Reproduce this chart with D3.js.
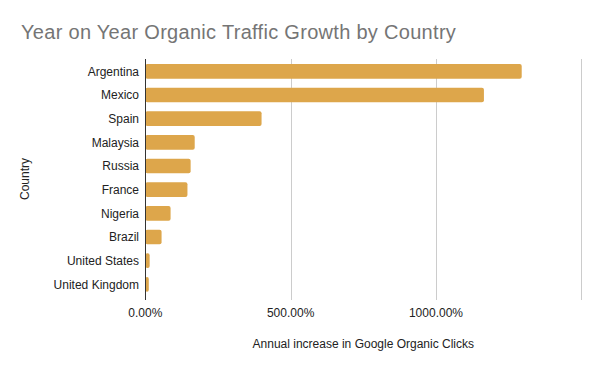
<!DOCTYPE html>
<html>
<head>
<meta charset="utf-8">
<script src="https://cdn.jsdelivr.net/npm/d3@7"></script>
<style>
  body { margin: 0; background: #fff; }
  text { font-family: Arial, "Liberation Sans", sans-serif; }
</style>
</head>
<body>
<div id="chart"></div>
<script>
var WD = 600, HT = 371

// data
var countries = ['Argentina','Mexico','Spain','Malaysia','Russia','France','Nigeria','Brazil','United States','United Kingdom']
var growth = [1295, 1165, 400, 170, 156, 145, 87, 56, 15, 12]
var ticks = [0, 500, 1000, 1500]
var tickLabels = ['0.00%', '500.00%', '1000.00%', '']

var data = countries.map(function(c, i){ return { country: c, value: growth[i] } })

var x = d3.scaleLinear().domain([0, 1500]).range([145.3, 581.3])
var y = d3.scaleBand().domain(countries).range([59.5, 296.2]).paddingInner(0.38).paddingOuter(0.19)

var svg = d3.select("#chart")
            .append("svg")
                .attr("width", WD)
                .attr("height", HT)

// title
svg.append("text")
    .attr("x", 21)
    .attr("y", 39)
    .attr("font-size", 20)
    .attr("letter-spacing", 0.3)
    .attr("fill", "#757575")
    .text("Year on Year Organic Traffic Growth by Country")

// gridlines
svg.selectAll(".grid")
    .data(ticks.slice(1))
    .enter()
    .append("line")
        .attr("x1", function(d){ return Math.round(x(d)) + 0.5 })
        .attr("x2", function(d){ return Math.round(x(d)) + 0.5 })
        .attr("y1", 59)
        .attr("y2", 300)
        .attr("stroke", "#cccccc")
        .attr("stroke-width", 1)

// bars
svg.selectAll(".bar")
    .data(data)
    .enter()
    .append("rect")
        .attr("x", x(0))
        .attr("y", function(d){ return y(d.country) })
        .attr("width", function(d){ return x(d.value) - x(0) })
        .attr("height", y.bandwidth())
        .attr("rx", 2)
        .attr("fill", "#dda64b")

// zero axis line
svg.append("line")
    .attr("x1", Math.round(x(0)) + 0.5)
    .attr("x2", Math.round(x(0)) + 0.5)
    .attr("y1", 59)
    .attr("y2", 300)
    .attr("stroke", "#333333")
    .attr("stroke-width", 1)

// category labels
svg.selectAll(".ylab")
    .data(countries)
    .enter()
    .append("text")
        .attr("x", 139)
        .attr("y", function(d){ return y(d) + y.bandwidth() / 2 })
        .attr("dy", "0.35em")
        .attr("text-anchor", "end")
        .attr("font-size", 12)
        .attr("fill", "#222222")
        .text(function(d){ return d })

// x tick labels
svg.selectAll(".xlab")
    .data(ticks)
    .enter()
    .append("text")
        .attr("x", function(d){ return x(d) })
        .attr("y", 317)
        .attr("text-anchor", "middle")
        .attr("font-size", 12)
        .attr("fill", "#222222")
        .text(function(d, i){ return tickLabels[i] })

// axis titles
svg.append("text")
    .attr("x", (x(0) + x(1500)) / 2)
    .attr("y", 348)
    .attr("text-anchor", "middle")
    .attr("font-size", 12)
    .attr("fill", "#222222")
    .text("Annual increase in Google Organic Clicks")

svg.append("text")
    .attr("transform", "translate(29,179) rotate(-90)")
    .attr("text-anchor", "middle")
    .attr("font-size", 12)
    .attr("fill", "#222222")
    .text("Country")
</script>
</body>
</html>
